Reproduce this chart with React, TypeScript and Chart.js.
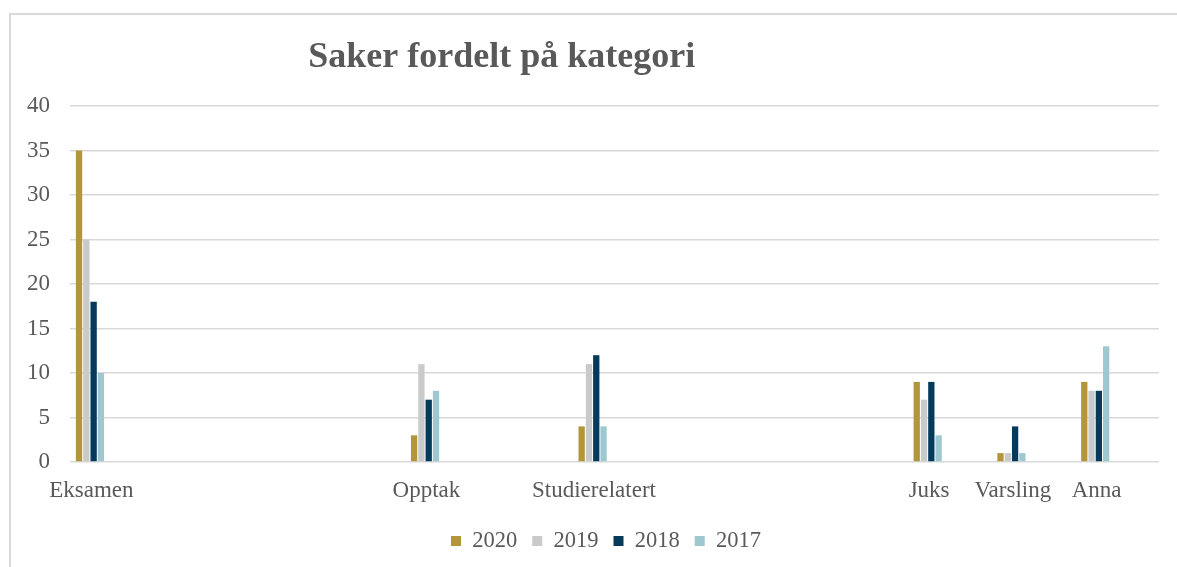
import React, { useEffect, useRef } from "react";
import { Chart, registerables } from "chart.js";

Chart.register(...registerables);

const categories = ["Eksamen", "", "", "", "Opptak", "", "Studierelatert", "", "", "", "Juks", "Varsling", "Anna"];
const seriesNames = ["2020", "2019", "2018", "2017"];
const values2020 = [35, null, null, null, 3, null, 4, null, null, null, 9, 1, 9];
const values2019 = [25, null, null, null, 11, null, 11, null, null, null, 7, 1, 8];
const values2018 = [18, null, null, null, 7, null, 12, null, null, null, 9, 4, 8];
const values2017 = [10, null, null, null, 8, null, 4, null, null, null, 3, 1, 13];
const seriesColors = ["#b39639", "#c9cacc", "#053a5b", "#9ec8cf"];
const yTicks = [0, 5, 10, 15, 20, 25, 30, 35, 40];
const titleText = "Saker fordelt på kategori";

const FONT = "'Liberation Serif', 'Times New Roman', serif";
const TEXT = "#595959";
const GRID = "#d9d9d9";

const decor = {
  id: "decor",
  afterLayout(chart: any) {
    const lg = chart.legend;
    if (lg) {
      const dx = 13;
      const dy = -4.75;
      lg.left += dx;
      lg.right += dx;
      lg.top += dy;
      lg.bottom += dy;
    }
  },
  beforeDraw(chart: any) {
    const ctx = chart.ctx;
    ctx.save();
    ctx.strokeStyle = GRID;
    ctx.lineWidth = 2;
    ctx.beginPath();
    ctx.moveTo(10, 13);
    ctx.lineTo(10, 600);
    ctx.moveTo(9, 14);
    ctx.lineTo(1300, 14);
    ctx.stroke();
    ctx.restore();
  },
  afterDraw(chart: any) {
    const ctx = chart.ctx;
    ctx.save();
    ctx.font = `bold 36px ${FONT}`;
    ctx.fillStyle = TEXT;
    ctx.textAlign = "center";
    ctx.textBaseline = "alphabetic";
    ctx.fillText(titleText, 501.7, 66.7);
    ctx.restore();
  },
};

export default function App() {
  const ref = useRef<HTMLCanvasElement | null>(null);

  useEffect(() => {
    if (!ref.current) return;
    const allValues = [values2020, values2019, values2018, values2017];
    const datasets: any[] = allValues.map((d, i) => ({
      label: seriesNames[i],
      data: d,
      backgroundColor: seriesColors[i],
      borderWidth: 0,
      categoryPercentage: 0.8714,
      barPercentage: 0.863,
    }));
    for (let k = 0; k < 6; k++) {
      datasets.push({
        label: "_pad" + k,
        data: categories.map(() => null),
        backgroundColor: "rgba(0,0,0,0)",
        borderWidth: 0,
        categoryPercentage: 0.8714,
        barPercentage: 0.863,
      });
    }
    const chart = new Chart(ref.current, {
      type: "bar",
      data: { labels: categories, datasets },
      plugins: [decor],
      options: {
        animation: false,
        responsive: false,
        devicePixelRatio: 1,
        layout: { padding: { left: 27, right: 18, top: 106, bottom: 0 } },
        plugins: {
          title: { display: false },
          tooltip: { enabled: false },
          legend: {
            display: true,
            position: "bottom",
            labels: {
              boxWidth: 10,
              boxHeight: 10,
              padding: 15,
              color: TEXT,
              font: { family: FONT, size: 22.5 },
              filter: (item: any) => item.datasetIndex < 4,
            },
          },
        },
        scales: {
          x: {
            grid: { display: false, drawTicks: false },
            border: { display: false },
            ticks: {
              autoSkip: false,
              maxRotation: 0,
              minRotation: 0,
              labelOffset: -20.5,
              padding: 15,
              color: TEXT,
              font: { family: FONT, size: 23 },
            },
            afterFit: (scale: any) => {
              scale.height = 57.5;
            },
          },
          y: {
            min: 0,
            max: 40,
            afterBuildTicks: (scale: any) => {
              scale.ticks = yTicks.map((v) => ({ value: v }));
            },
            grid: { color: GRID, lineWidth: 1.5, drawTicks: false },
            border: { display: false },
            ticks: {
              padding: 20,
              color: TEXT,
              font: { family: FONT, size: 23 },
            },
            afterFit: (scale: any) => {
              scale.width = 43;
            },
          },
        },
      },
    });
    return () => chart.destroy();
  }, []);

  return (
    <div style={{ position: "absolute", left: 0, top: 0, width: 1177, height: 567, background: "#fff" }}>
      <canvas ref={ref} width={1177} height={567} style={{ display: "block" }} />
    </div>
  );
}
